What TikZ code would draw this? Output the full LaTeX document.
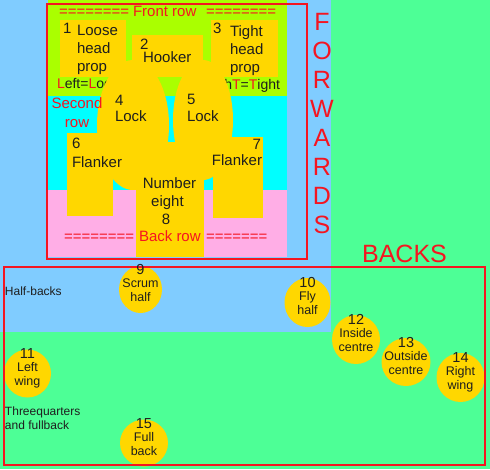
\documentclass[tikz,border=0pt]{standalone}
\usepackage{fontspec}
\setmainfont{Liberation Sans}
\usetikzlibrary{shapes.geometric}
\definecolor{bgblue}{HTML}{80CCFF}
\definecolor{bggreen}{HTML}{4DFF96}
\definecolor{frontlime}{HTML}{AAFF00}
\definecolor{secondcyan}{HTML}{00FFFF}
\definecolor{backpink}{HTML}{FFAEE6}
\definecolor{gold}{HTML}{FFD700}
\definecolor{redc}{HTML}{F51520}
\definecolor{ink}{HTML}{1E1E1E}
\begin{document}
\begin{tikzpicture}[x=1pt,y=-1pt,
  ft/.style={inner sep=0pt, outer sep=0pt, font=\fontsize{15}{18}\selectfont, text=ink},
  rt/.style={ft, text=redc},
  sidetxt/.style={inner sep=0pt, outer sep=0pt, font=\fontsize{14}{17}\selectfont, text=ink},
  big/.style={inner sep=0pt, outer sep=0pt, font=\fontsize{25}{30}\selectfont, text=redc},
  sm/.style={inner sep=0pt, outer sep=0pt, font=\fontsize{12}{14}\selectfont, text=ink, anchor=base west},
  pnum/.style={inner sep=0pt, outer sep=0pt, font=\fontsize{14.5}{16}\selectfont, text=ink, anchor=base},
  plab/.style={inner sep=0pt, outer sep=0pt, font=\fontsize{12.5}{14}\selectfont, text=ink, anchor=base},
  player/.style={ellipse, fill=gold, inner sep=0pt, outer sep=0pt},
  yel/.style={fill=gold},
  redbox/.style={draw=redc, line width=2pt}]
\useasboundingbox (0,0) rectangle (490,469);
% backgrounds
\fill[bggreen] (0,0) rectangle (490,469);
\fill[bgblue] (0,0) rectangle (331,332);
\fill[frontlime] (48,0) rectangle (287,96);
\fill[secondcyan] (48,96) rectangle (287,190);
\fill[backpink] (48,190) rectangle (287,257);
% texts hidden partly by the players
\node[sidetxt, anchor=base west] (leftlo) at (57,88) {\textcolor{redc}{L}eft=\textcolor{redc}{L}oose};
\node[sidetxt, anchor=base east] (rightti) at (280,89) {\textcolor{redc}{R}igh\textcolor{redc}{T}=\textcolor{redc}{T}ight};
% forwards shapes
\fill[yel] (60,20) rectangle (126,77);
\fill[yel] (211,20) rectangle (278,77);
\fill[yel] (132,35) rectangle (203,77);
\fill[yel] (133,125) ellipse [x radius=36, y radius=65];
\fill[yel] (203,120) ellipse [x radius=30, y radius=60];
\fill[yel] (67,133) rectangle (113,216);
\fill[yel] (213,137) rectangle (263,218);
\fill[yel] (136,142) rectangle (204,257);
% backs
\foreach \n/\cx/\cy/\rx/\ry in {9/140.5/289.5/21.5/23.5, 10/307.5/302.5/23/24.5,
  11/27.5/373.5/23.5/24, 12/356/339.5/24/24.5, 13/406/362/24.5/24,
  14/460.5/377.5/24/24.5, 15/144/443/24/23.5}
  {\node[player, minimum width={2*\rx*1pt}, minimum height={2*\ry*1pt}] (p\n) at (\cx,\cy) {};}
% red boxes
\draw[redbox] (47,4) rectangle (306.5,258.5);
\draw[redbox] (4,267) rectangle (485,465);
% front row
\node[rt, anchor=base west] (fr1) at (59,16) {========};
\node[rt, anchor=base west] (fr2) at (133,16) {Front row};
\node[rt, anchor=base west] (fr3) at (206,16) {========};
\node[ft, anchor=base west] (n1) at (63,33) {1};
\node[ft, anchor=base west] (l1a) at (77,35) {Loose};
\node[ft, anchor=base west] (l1b) at (77,53) {head};
\node[ft, anchor=base west] (l1c) at (77,71) {prop};
\node[ft, anchor=base west] (n2) at (140,49) {2};
\node[ft, anchor=base west] (l2) at (143,62) {Hooker};
\node[ft, anchor=base west] (n3) at (213,33) {3};
\node[ft, anchor=base west] (l3a) at (230,36) {Tight};
\node[ft, anchor=base west] (l3b) at (230,54) {head};
\node[ft, anchor=base west] (l3c) at (230,72) {prop};
% second row
\node[rt, anchor=base] (sr1) at (77,108) {Second};
\node[rt, anchor=base] (sr2) at (77,127) {row};
\node[ft, anchor=base west] (n4) at (115,105) {4};
\node[ft, anchor=base west] (l4) at (115,121) {Lock};
\node[ft, anchor=base west] (n5) at (187,104) {5};
\node[ft, anchor=base west] (l5) at (187,121) {Lock};
% back row
\node[ft, anchor=base west] (n6) at (72,148) {6};
\node[ft, anchor=base west] (l6) at (72,167) {Flanker};
\node[ft, anchor=base east] (n7) at (261,149.5) {7};
\node[ft, anchor=base east] (l7) at (262,165) {Flanker};
\node[ft, anchor=base] (l8a) at (169.5,188) {Number};
\node[ft, anchor=base] (l8b) at (167.5,206) {eight};
\node[ft, anchor=base] (n8) at (166,224) {8};
\node[rt, anchor=base west] (br1) at (64,241) {========};
\node[rt, anchor=base west] (br2) at (139,241) {Back row};
\node[rt, anchor=base west] (br3) at (206,241) {=======};
% big labels
\foreach \l [count=\i from 0] in {F,O,R,W,A,R,D,S}
  {\node[big, anchor=base] (fw\i) at (322,30+29*\i) {\l};}
\node[big, anchor=base] (backs) at (404.5,262) {BACKS};
\node[sm] (halfbacks) at (5,295) {Half-backs};
\node[sm] (tq1) at (5,415) {Threequarters};
\node[sm] (tq2) at (5,429) {and fullback};
% players' texts
\foreach \n/\cx/\cy/\la/\lb in {9/140.5/289.5/Scrum/half, 10/307.5/302.5/Fly/half,
  11/27.5/373.5/Left/wing, 12/356/339.5/Inside/centre, 13/406/362/Outside/centre,
  14/460.5/377.5/Right/wing, 15/144/443/Full/back}
  {\node[pnum] (pn\n) at (\cx,\cy-15) {\n};
   \node[plab] (pa\n) at (\cx,\cy-2) {\la};
   \node[plab] (pb\n) at (\cx,\cy+12) {\lb};}
\end{tikzpicture}
\end{document}
